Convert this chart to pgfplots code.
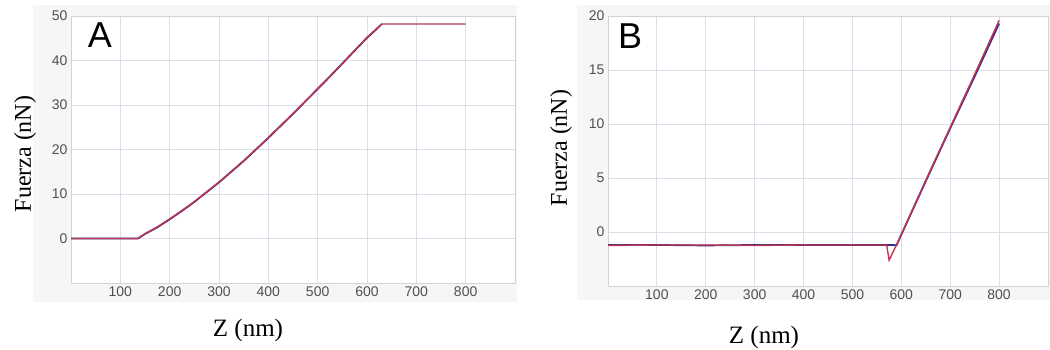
\documentclass[border=0pt]{standalone}
\usepackage{fontspec}
\setmainfont{Liberation Serif}
\setsansfont{Liberation Sans}
\usepackage{pgfplots}
\pgfplotsset{compat=1.18}
\definecolor{gridc}{RGB}{222,222,232}
\definecolor{framec}{RGB}{210,210,216}
\definecolor{curvered}{RGB}{190,55,85}
\definecolor{curveblue}{RGB}{60,40,130}
\definecolor{tickc}{RGB}{80,80,80}
\definecolor{backc}{RGB}{246,246,246}
\pgfplotsset{
  afm/.style={
    scale only axis,
    anchor=south west,
    axis line style={framec},
    grid=major,
    major grid style={gridc, line width=0.8pt},
    tick style={draw=none},
    xmin=0, xmax=900,
    xtick={100,200,...,800},
    /pgf/number format/assume math mode=true,
    ticklabel style={font=\fontsize{14}{14}\selectfont\sffamily, text=tickc},
    axis background/.style={fill=white},
  }
}
\begin{document}
\begin{tikzpicture}[x=1pt,y=1pt]
\useasboundingbox (0,0) rectangle (1050,350);
\fill[backc] (33,48) rectangle (517,345);
\fill[backc] (577,50) rectangle (1050,345);
% Panel A
\begin{axis}[afm, at={(71pt,67pt)}, width=444pt, height=267pt,
  ymin=-10, ymax=50, ytick={0,10,...,50}]
\addplot[curveblue, line width=1.7pt] coordinates {
 (0,0) (136,0) (150,1.0) (175,2.5) (200,4.3) (225,6.2) (250,8.2) (275,10.4)
 (300,12.6) (325,15.0) (350,17.4) (375,20.0) (400,22.6) (425,25.3) (450,28.0)
 (475,30.8) (500,33.6) (525,36.4) (550,39.3) (575,42.2) (600,45.1) (615,46.6) (630,48.2)};
\addplot[curvered, line width=1.4pt] coordinates {
 (0,0) (135,0) (150,1.1) (175,2.6) (200,4.4) (225,6.3) (250,8.3) (275,10.5)
 (300,12.7) (325,15.1) (350,17.5) (375,20.1) (400,22.7) (425,25.4) (450,28.1)
 (475,30.9) (500,33.7) (525,36.5) (550,39.4) (575,42.3) (600,45.2) (615,46.7) (630,48.2) (800,48.2)};
\end{axis}
% Panel B
\begin{axis}[afm, at={(608pt,64pt)}, width=440pt, height=270pt,
  ymin=-5, ymax=20, ytick={0,5,...,20}]
\addplot[curveblue, line width=1.7pt] coordinates {
 (0,-1.2) (100,-1.2) (200,-1.25) (300,-1.2) (400,-1.2) (500,-1.2) (585,-1.2) (590,-1.25)
 (650,4.7) (700,9.6) (750,14.4) (800,19.3)};
\addplot[curvered, line width=1.4pt] coordinates {
 (0,-1.25) (100,-1.2) (200,-1.2) (300,-1.25) (400,-1.2) (500,-1.2) (570,-1.2)
 (575,-2.6) (590,-1.2) (650,4.8) (700,9.7) (750,14.6) (800,19.6)};
\end{axis}
% labels
\node[font=\fontsize{36}{36}\selectfont\sffamily] at (100,315) {A};
\node[font=\fontsize{36}{36}\selectfont\sffamily] at (630,314) {B};
\node[rotate=90, font=\fontsize{24}{24}\selectfont] at (25,196) {Fuerza (nN)};
\node[rotate=90, font=\fontsize{24}{24}\selectfont] at (561,202) {Fuerza (nN)};
\node[font=\fontsize{25}{25}\selectfont] at (248,20) {Z (nm)};
\node[font=\fontsize{25}{25}\selectfont] at (764,13) {Z (nm)};
\end{tikzpicture}
\end{document}
